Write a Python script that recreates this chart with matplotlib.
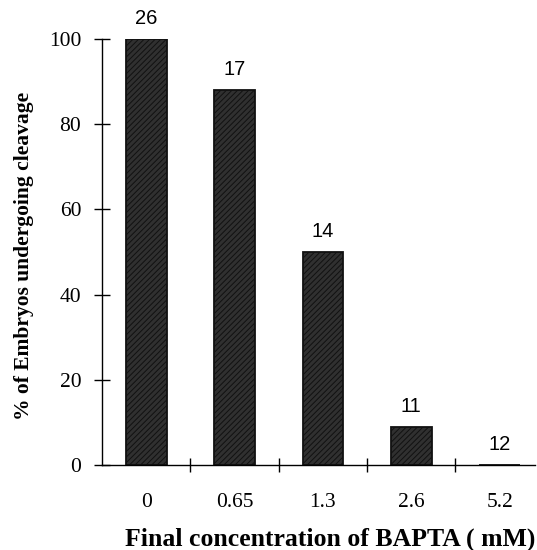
import matplotlib
matplotlib.use("Agg")
import matplotlib.pyplot as plt
import numpy as np

categories = ["0", "0.65", "1.3", "2.6", "5.2"]
values = [100, 88, 50, 9, 0]
counts = ["26", "17", "14", "11", "12"]
yticks = [0, 20, 40, 60, 80, 100]

plt.rcParams['hatch.color'] = '#c4c4c4'
plt.rcParams['hatch.linewidth'] = 0.7

fig = plt.figure(figsize=(5.37, 5.5), dpi=100)
ax = fig.add_axes([102/537, 1-465/550, (535-102)/537, (465-39)/550])

x = np.arange(len(categories))
bars = ax.bar(x, values, width=0.46, color='#303030', edgecolor='#111111',
              linewidth=1.3, hatch='//////')
for xi, v, c in zip(x, values, counts):
    ax.text(xi, v + 2.6, c, ha='center', va='bottom', fontsize=14.5,
            family='Liberation Sans', clip_on=False)

ax.set_xlim(-0.5, 4.4)
ax.set_ylim(0, 100)
ax.spines['top'].set_visible(False)
ax.spines['right'].set_visible(False)
ax.spines['left'].set_linewidth(1.0)
ax.spines['bottom'].set_linewidth(1.0)

ax.set_yticks(yticks)
ax.set_yticklabels([str(t) for t in yticks], family='Liberation Serif', fontsize=15.5)
ax.tick_params(axis='y', direction='inout', length=12, width=1.0, pad=9)

ax.set_xticks(x)
ax.set_xticklabels(categories, family='Liberation Serif', fontsize=15.5)
ax.tick_params(axis='x', which='major', length=0, pad=20)
ax.set_xticks(x[:-1] + 0.5, minor=True)
ax.tick_params(axis='x', which='minor', direction='inout', length=10, width=1.0)

ax.set_ylabel('% of Embryos undergoing cleavage', family='Liberation Serif',
              fontweight='bold', fontsize=15.5)
ax.yaxis.set_label_coords(-(102-34)/433, 0.49)
fig.text(330/537, 4/550, 'Final concentration of BAPTA ( mM)', family='Liberation Serif',
         fontweight='bold', fontsize=18.5, ha='center', va='baseline')

fig.savefig('out.png', dpi=100)
